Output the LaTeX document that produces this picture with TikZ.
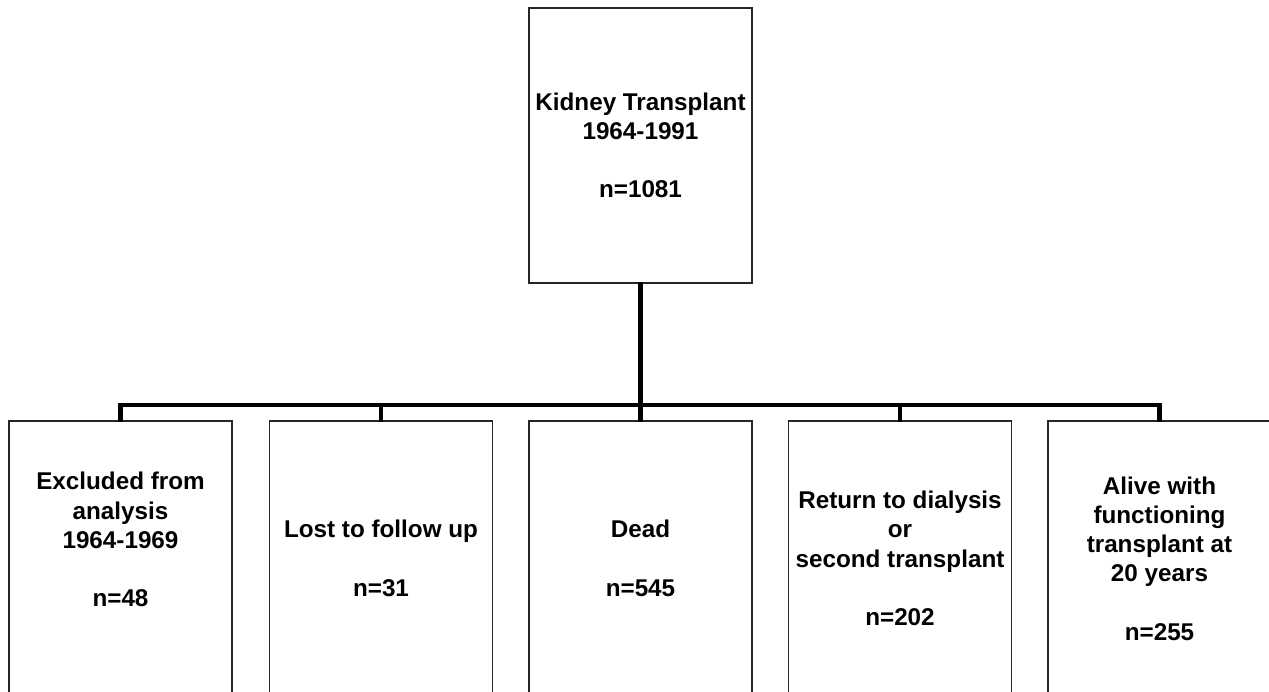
\documentclass[tikz,border=0pt]{standalone}
\usepackage{fontspec}
\setmainfont{Liberation Sans}
\usepackage{tikz}
\usetikzlibrary{calc}

\begin{document}
\begin{tikzpicture}[x=0.02cm, y=-0.02cm,
  font=\bfseries\fontsize{13.8}{16.6}\selectfont,
  stagebox/.style={draw=black!85, line width=1.1pt, rectangle, inner sep=0pt,
    minimum width=4.46cm, minimum height=5.5cm, align=center},
  bus/.style={line width=2.6pt, line cap=rect}]
\useasboundingbox (0,0) rectangle (1269,692);
\clip (0,0) rectangle (1269,692);
% top of the tree
\node[stagebox] (tx) at (640.5,145.5) {Kidney Transplant\\1964-1991\\[16.6pt]n=1081};
% outcome boxes (bottoms run off the page)
\node[stagebox] (excl) at (120.5,558.5) {Excluded from\\analysis\\1964-1969\\[16.6pt]n=48\\\strut};
\node[stagebox] (lost) at (381,558.5) {Lost to follow up\\[16.6pt]n=31};
\node[stagebox] (dead) at (640.5,558.5) {Dead\\[16.6pt]n=545};
\node[stagebox] (dial) at (900,558.5) {Return to dialysis\\or\\second transplant\\[16.6pt]n=202};
\node[stagebox] (alive) at (1159.5,558.5) {Alive with\\functioning\\transplant at\\20 years\\[16.6pt]n=255};
% connectors
\coordinate (hub) at (640.5,405);
\draw[bus] (tx.south) -- (hub);
\draw[bus] (hub -| excl.north) -- (hub -| alive.north);
\foreach \b in {excl,lost,dead,dial,alive}
  \draw[bus] (hub -| \b.north) -- (\b.north);
\end{tikzpicture}
\end{document}
